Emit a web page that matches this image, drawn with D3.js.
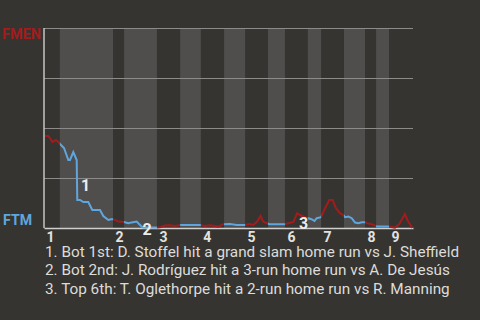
<!doctype html>
<html>
<head>
    <meta charset="utf-8">
    <title>Win probability</title>
    <script src="https://d3js.org/d3.v7.min.js"></script>
    <style type="text/css">
        html, body { margin: 0; background: #363431; }
        svg { display: block; font-family: Roboto, sans-serif; }
    </style>
</head>
<body>
    <svg id="chart" width="480" height="320"></svg>

    <script type="text/javascript">
        // play index (0..100) where each half inning starts, top 1st .. top 9th, plus end
        var halfStarts = [0, 4.3, 18.7, 21.7, 30.6, 36.9, 42.5, 48.8, 54.5, 60.7, 65.3, 71.5, 75.1, 81.3, 87.0, 90.0, 93.5, 100];
        var inningLabels = ["1", "2", "3", "4", "5", "6", "7", "8", "9"];

        // FMEN win probability after each play
        var playX = [0.27, 1.17, 2.36, 3.25, 3.88, 4.34, 5.42, 6.59, 7.05, 7.94, 8.86, 9.02, 9.76, 10.65, 12.0,
            13.09, 14.28, 15.18, 16.07, 17.43, 18.16, 18.78, 20.14, 21.68, 22.85, 23.77, 25.12, 26.48, 26.9,
            30.54, 31.4, 32.8, 34.1, 35.5, 36.9, 42.3, 43.6, 45.0, 46.3, 47.2, 48.6, 50.4, 52.2, 54.5, 55.6,
            56.7, 57.8, 58.7, 59.4, 60.4, 61.1, 65.3, 66.2, 67.6, 68.6, 69.4, 70.7, 71.6, 72.5, 73.3, 73.9,
            75.1, 76.2, 77.3, 78.2, 79.1, 80.2, 81.1, 81.6, 82.5, 83.4, 84.3, 85.2, 86.1, 87.0, 87.6, 88.8,
            89.7, 90.2, 93.3, 95.1, 96.3, 97.8, 98.7, 99.8];
        var fmenWP = [0.46, 0.46, 0.43, 0.44, 0.43, 0.42, 0.40, 0.34, 0.34, 0.38, 0.34, 0.14, 0.14, 0.13, 0.13,
            0.09, 0.09, 0.09, 0.06, 0.04, 0.044, 0.044, 0.032, 0.03, 0.024, 0.028, 0.032, 0.007, 0.002,
            0.002, 0.004, 0.012, 0.014, 0.01, 0.015, 0.015, 0.01, 0.014, 0.01, 0.007, 0.019, 0.02, 0.015, 0.015, 0.02,
            0.015, 0.032, 0.06, 0.032, 0.024, 0.019, 0.019, 0.024, 0.03, 0.074, 0.065, 0.054, 0.049, 0.044, 0.035, 0.049,
            0.054, 0.10, 0.14, 0.14, 0.10, 0.074, 0.065, 0.054, 0.057, 0.049, 0.027, 0.024, 0.029, 0.029, 0.024, 0.019,
            0.012, 0.007, 0.007, 0.002, 0.02, 0.07, 0.032, 0.0];

        // big plays: where the marker sits (play index, win probability)
        var keyX = [8.95, 25.6, 68.0];
        var keyWP = [0.24, 0.02, 0.05];
        var keyText = [
            "1. Bot 1st: D. Stoffel hit a grand slam home run vs J. Sheffield",
            "2. Bot 2nd: J. Rodríguez hit a 3-run home run vs A. De Jesús",
            "3. Top 6th: T. Oglethorpe hit a 2-run home run vs R. Manning"
        ];

        var awayColor = "#a31c1c", homeColor = "#5fa6de";
        var margin = {top: 28, left: 44, width: 369, height: 200};

        var svg = d3.select("#chart");
        var x = d3.scaleLinear().domain([0, 100]).range([margin.left, margin.left + margin.width]);
        var y = d3.scaleLinear().domain([0, 1]).range([margin.top + margin.height, margin.top]);

        var halves = d3.range(halfStarts.length - 1).map(function(i) {
            return {i: i, x0: halfStarts[i], x1: halfStarts[i + 1], top: i % 2 == 0};
        });

        // light bands for bottom halves
        svg.append("g").selectAll("rect")
            .data(halves.filter(function(d) { return !d.top; }))
            .enter().append("rect")
            .attr("x", function(d) { return x(d.x0); })
            .attr("width", function(d) { return x(d.x1) - x(d.x0); })
            .attr("y", y(1))
            .attr("height", y(0) - y(1))
            .attr("fill", "#4f4e4c");

        // grid
        var grid = svg.append("g")
            .attr("transform", "translate(" + margin.left + ",0)")
            .call(d3.axisLeft(y).tickValues([0.25, 0.5, 0.75, 1]).tickSize(-margin.width).tickFormat(""));
        grid.select(".domain").remove();
        grid.selectAll(".tick line").attr("stroke", "#8c8b89").attr("stroke-width", 1.2);

        // left and bottom axis lines
        svg.append("line")
            .attr("x1", x(0)).attr("x2", x(0)).attr("y1", y(1)).attr("y2", y(0))
            .attr("stroke", "#c4c4c2").attr("stroke-width", 1.5);

        var xAxis = svg.append("g")
            .attr("transform", "translate(0," + y(0) + ")")
            .call(d3.axisBottom(x)
                .tickValues(halves.filter(function(d) { return d.top; }).map(function(d) { return d.x0; }))
                .tickSize(0)
                .tickFormat(function(d, i) { return inningLabels[i]; }));
        xAxis.select(".domain").attr("stroke", "#cfcfcd").attr("stroke-width", 1.5);
        xAxis.selectAll("text")
            .attr("text-anchor", "start")
            .attr("dx", 2)
            .attr("y", 0)
            .attr("dy", 13.5)
            .attr("fill", "#e2e2e0")
            .attr("font-size", 14)
            .attr("font-weight", "bold")
            .attr("font-family", "Roboto, sans-serif");

        // clip paths: top halves red, bottom halves blue
        var defs = svg.append("defs");
        ["top", "bot"].forEach(function(k) {
            defs.append("clipPath").attr("id", "clip-" + k)
                .selectAll("rect")
                .data(halves.filter(function(d) { return d.top == (k == "top"); }))
                .enter().append("rect")
                .attr("x", function(d) { return x(d.x0); })
                .attr("width", function(d) { return x(d.x1) - x(d.x0); })
                .attr("y", 0)
                .attr("height", 320);
        });

        var points = playX.map(function(d, i) { return [d, fmenWP[i]]; });
        var line = d3.line()
            .x(function(d) { return x(d[0]); })
            .y(function(d) { return y(d[1]); });

        svg.append("path").datum(points)
            .attr("clip-path", "url(#clip-top)")
            .attr("d", line).attr("fill", "none")
            .attr("stroke", awayColor).attr("stroke-width", 2);
        svg.append("path").datum(points)
            .attr("clip-path", "url(#clip-bot)")
            .attr("d", line).attr("fill", "none")
            .attr("stroke", homeColor).attr("stroke-width", 2);

        // markers for key plays
        svg.append("g").selectAll("text")
            .data(keyX)
            .enter().append("text")
            .attr("x", function(d) { return x(d) + 4; })
            .attr("y", function(d, i) { return y(keyWP[i]) + 11; })
            .attr("fill", "#ececea")
            .attr("font-size", 16)
            .attr("font-weight", "bold")
            .text(function(d, i) { return i + 1; });

        // team labels
        svg.append("text")
            .attr("x", 2).attr("y", 39)
            .attr("fill", awayColor).attr("font-size", 15).attr("font-weight", "bold")
            .attr("textLength", 39).attr("lengthAdjust", "spacingAndGlyphs")
            .text("FMEN");
        svg.append("text")
            .attr("x", 3).attr("y", 225)
            .attr("fill", homeColor).attr("font-size", 15).attr("font-weight", "bold")
            .attr("textLength", 29).attr("lengthAdjust", "spacingAndGlyphs")
            .text("FTM");

        // key play descriptions
        svg.append("g").selectAll("text")
            .data(keyText)
            .enter().append("text")
            .attr("x", 45)
            .attr("y", function(d, i) { return 257 + i * 18.3; })
            .attr("fill", "#dcdcda")
            .attr("font-size", 15.3)
            .text(function(d) { return d; });
    </script>
</body>
</html>
